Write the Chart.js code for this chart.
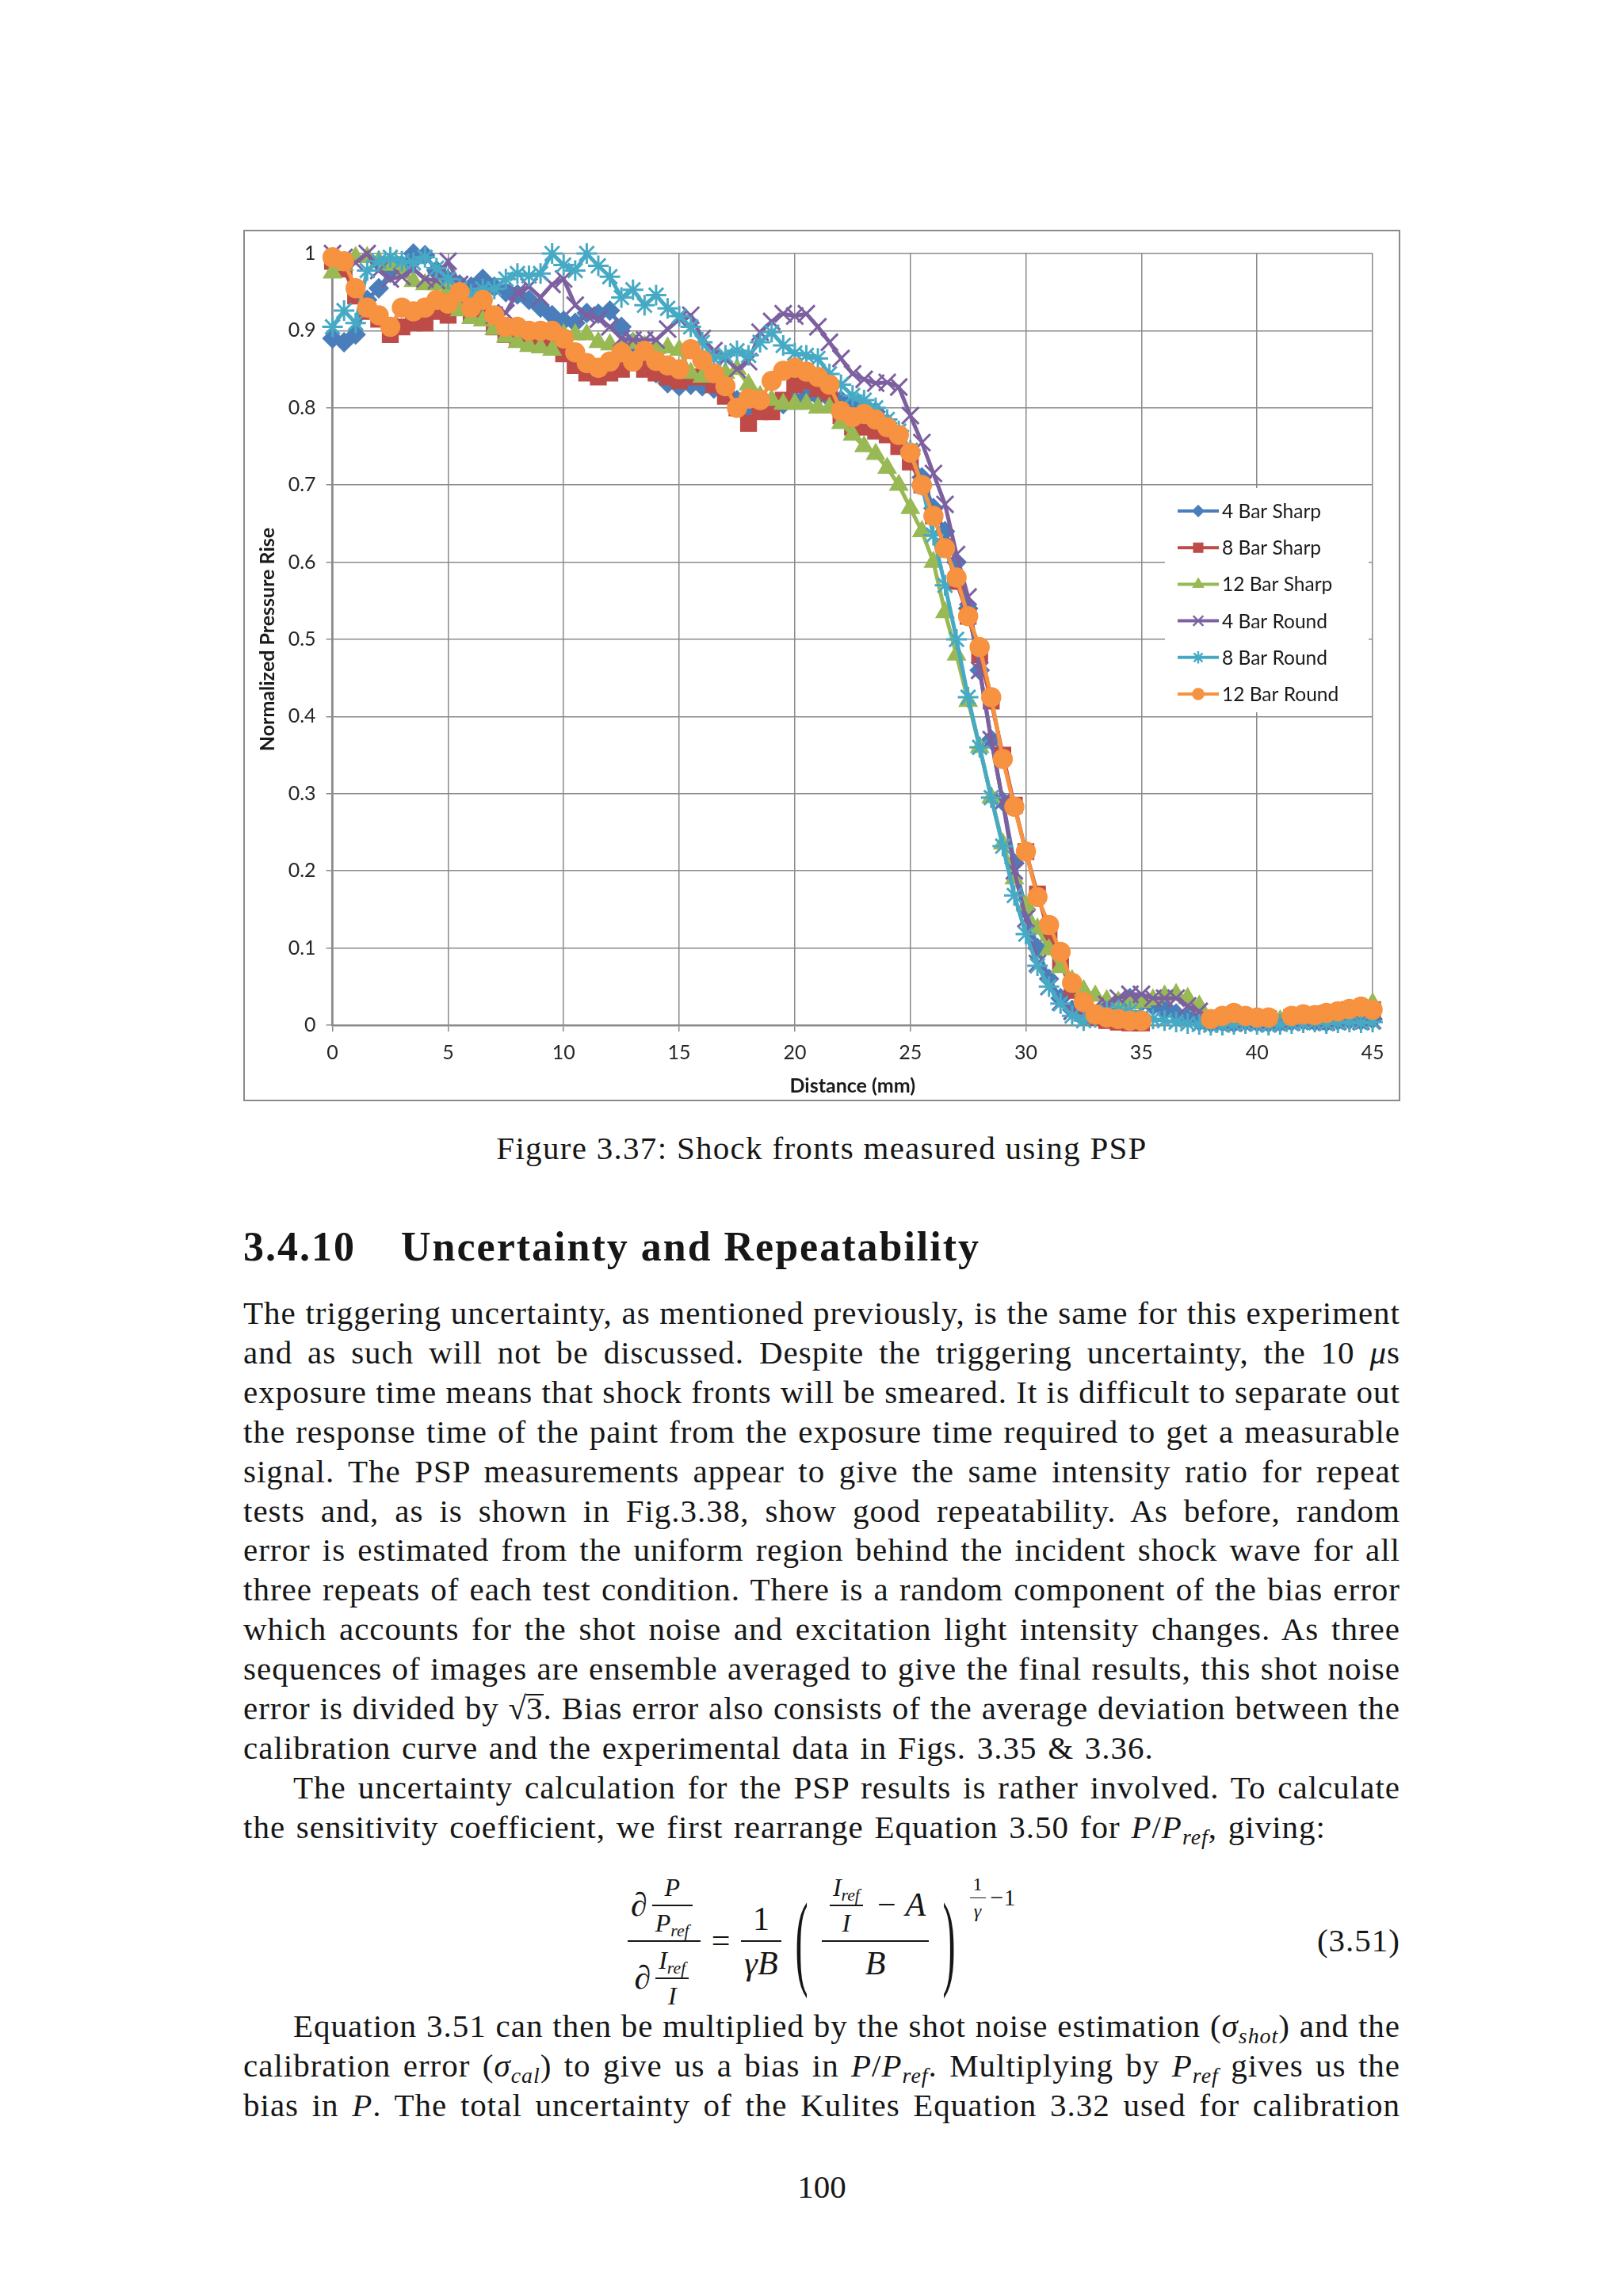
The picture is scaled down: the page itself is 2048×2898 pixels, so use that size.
<!DOCTYPE html>
<html>
<head>
<meta charset="utf-8">
<title>Shock fronts measured using PSP</title>
<script src="https://cdn.jsdelivr.net/npm/chart.js@4.4.1/dist/chart.umd.min.js"></script>
<style>
  html, body { margin: 0; padding: 0; background: #fff; }
  body { position: relative; width: 2048px; height: 2898px; overflow: hidden;
         font-family: "Liberation Serif", "DejaVu Serif", serif; color: #161616; }
  #chart-frame { position: absolute; left: 307px; top: 290px; width: 1460px; height: 1100px;
                 box-sizing: border-box; border: 2px solid #8a8a8a; pointer-events: none; }
  #wrap { position: absolute; left: 307px; top: 290px; width: 1460px; height: 1100px; }
  .caption { position: absolute; top: 1424px; left: 0; width: 2074px; text-align: center;
             font-size: 41px; line-height: 50px; letter-spacing: 1.3px; }
  .heading { position: absolute; top: 1544px; left: 307px; font-size: 52px; line-height: 60px; font-weight: bold;
             letter-spacing: 2px; }
  .heading .t { position: absolute; left: 199px; white-space: nowrap; }
  .para { position: absolute; left: 307px; width: 1460px; font-size: 41px; line-height: 49.9px;
          letter-spacing: 1px; word-spacing: -5px; }
  .para div { text-align: justify; text-align-last: justify; white-space: nowrap; }
  .para div.last { text-align-last: left; word-spacing: 2.5px; }
  .para div.ind { padding-left: 63px; }
  .para i { font-style: italic; }
  .para sub, .eq sub { font-size: 0.68em; vertical-align: -0.28em; line-height: 0; }
  .ov { display: inline-block; border-top: 2px solid #161616; line-height: 30px; padding-top: 1px; margin-left: -1px; }
  .eq { position: absolute; left: 786px; top: 2374px; height: 150px; display: flex; align-items: center;
        font-size: 42px; }
  .fr { display: inline-grid; grid-template-rows: 1fr 1fr; margin: 0 6px; }
  .fr > .n { align-self: end; justify-self: center; padding: 0 4px 3px; display: flex; align-items: center; }
  .fr > .d { align-self: start; justify-self: stretch; border-top: 2px solid #161616; padding: 3px 4px 0;
             display: flex; align-items: center; justify-content: center; }
  .sm { font-size: 32px; }
  .xs { font-size: 24px; }
  .xs > .d { border-top-width: 1.5px; }
  .op { margin: 0 12px; }
  .eq > .op { margin: 0 8px; }
  .paren { display: inline-block; font-size: 46px; transform: scale(1.05, 2.9); margin: 0 12px; }
  .sup { align-self: flex-start; font-size: 30px; display: flex; align-items: center; margin-top: -10px; }
  .eqno { position: absolute; top: 2424px; right: 281px; font-size: 41px; line-height: 50px; letter-spacing: 1px; }
  .pageno { position: absolute; top: 2735px; left: 0; width: 2074px; text-align: center; font-size: 41px; line-height: 50px; }
</style>
</head>
<body>
<div id="wrap"><canvas id="shock-chart" width="1460" height="1100"></canvas></div>
<div id="chart-frame"></div>

<div class="caption">Figure 3.37: Shock fronts measured using PSP</div>

<div class="heading"><span>3.4.10</span><span class="t">Uncertainty and Repeatability</span></div>

<div class="para" style="top:1633px">
  <div>The triggering uncertainty, as mentioned previously, is the same for this experiment</div>
  <div>and as such will not be discussed. Despite the triggering uncertainty, the 10 <i>μ</i>s</div>
  <div>exposure time means that shock fronts will be smeared. It is difficult to separate out</div>
  <div>the response time of the paint from the exposure time required to get a measurable</div>
  <div>signal. The PSP measurements appear to give the same intensity ratio for repeat</div>
  <div>tests and, as is shown in Fig.3.38, show good repeatability. As before, random</div>
  <div>error is estimated from the uniform region behind the incident shock wave for all</div>
  <div>three repeats of each test condition. There is a random component of the bias error</div>
  <div>which accounts for the shot noise and excitation light intensity changes. As three</div>
  <div>sequences of images are ensemble averaged to give the final results, this shot noise</div>
  <div>error is divided by √<span class="ov">3</span>. Bias error also consists of the average deviation between the</div>
  <div class="last">calibration curve and the experimental data in Figs. 3.35 &amp; 3.36.</div>
  <div class="ind">The uncertainty calculation for the PSP results is rather involved. To calculate</div>
  <div class="last">the sensitivity coefficient, we first rearrange Equation 3.50 for <i>P</i>/<i>P<sub>ref</sub></i>, giving:</div>
</div>

<div class="eq">
  <span class="fr">
    <span class="n">∂<span class="fr sm"><span class="n"><i>P</i></span><span class="d"><i>P<sub>ref</sub></i></span></span></span>
    <span class="d">∂<span class="fr sm"><span class="n"><i>I<sub>ref</sub></i></span><span class="d"><i>I</i></span></span></span>
  </span>
  <span class="op">=</span>
  <span class="fr"><span class="n">1</span><span class="d"><i>γB</i></span></span>
  <span class="paren">(</span>
  <span class="fr"><span class="n"><span class="fr sm"><span class="n"><i>I<sub>ref</sub></i></span><span class="d"><i>I</i></span></span><span class="op">−</span><i>A</i></span><span class="d"><i>B</i></span></span>
  <span class="paren">)</span>
  <span class="sup"><span class="fr xs"><span class="n">1</span><span class="d"><i>γ</i></span></span>−1</span>
</div>
<div class="eqno">(3.51)</div>

<div class="para" style="top:2533px">
  <div class="ind">Equation 3.51 can then be multiplied by the shot noise estimation (<i>σ<sub>shot</sub></i>) and the</div>
  <div>calibration error (<i>σ<sub>cal</sub></i>) to give us a bias in <i>P</i>/<i>P<sub>ref</sub></i>. Multiplying by <i>P<sub>ref</sub></i> gives us the</div>
  <div>bias in <i>P</i>. The total uncertainty of the Kulites Equation 3.32 used for calibration</div>
</div>

<div class="pageno">100</div>

<script>
// distance along the plate (mm), one reading every 0.5 mm
const distance = [
  0, 0.5, 1, 1.5, 2, 2.5, 3, 3.5, 4, 4.5,
  5, 5.5, 6, 6.5, 7, 7.5, 8, 8.5, 9, 9.5,
  10, 10.5, 11, 11.5, 12, 12.5, 13, 13.5, 14, 14.5,
  15, 15.5, 16, 16.5, 17, 17.5, 18, 18.5, 19, 19.5,
  20, 20.5, 21, 21.5, 22, 22.5, 23, 23.5, 24, 24.5,
  25, 25.5, 26, 26.5, 27, 27.5, 28, 28.5, 29, 29.5,
  30, 30.5, 31, 31.5, 32, 32.5, 33, 33.5, 34, 34.5,
  35, 35.5, 36, 36.5, 37, 37.5, 38, 38.5, 39, 39.5,
  40, 40.5, 41, 41.5, 42, 42.5, 43, 43.5, 44, 44.5,
  45
];

const bar4Sharp = [
  0.89, 0.885, 0.895, 0.94, 0.955, 0.975, 0.985, 1.0, 0.998, 0.978,
  0.966, 0.96, 0.957, 0.967, 0.957, 0.95, 0.947, 0.94, 0.93, 0.92,
  0.913, 0.91, 0.923, 0.922, 0.926, 0.905, 0.885, 0.87, 0.845, 0.832,
  0.828, 0.83, 0.828, 0.825, 0.82, 0.81, 0.8, 0.8, 0.8, 0.805,
  0.81, 0.815, 0.815, 0.812, 0.81, 0.805, 0.8, 0.795, 0.78, 0.765,
  0.74, 0.71, 0.67, 0.64, 0.6, 0.54, 0.46, 0.37, 0.29, 0.21,
  0.15, 0.1, 0.06, 0.035, 0.02, 0.012, 0.012, 0.02, 0.03, 0.035,
  0.03, 0.025, 0.02, 0.015, 0.01, 0.005, 0.003, 0.004, 0.003, 0.005,
  0.004, 0.003, 0.004, 0.005, 0.006, 0.005, 0.004, 0.006, 0.007, 0.006,
  0.008
];

const bar8Sharp = [
  0.99, 0.98, 0.945, 0.925, 0.915, 0.895, 0.905, 0.91, 0.91, 0.925,
  0.92, 0.93, 0.92, 0.925, 0.905, 0.895, 0.89, 0.885, 0.89, 0.885,
  0.87, 0.855, 0.845, 0.84, 0.845, 0.85, 0.86, 0.85, 0.845, 0.84,
  0.835, 0.84, 0.84, 0.83, 0.815, 0.8, 0.78, 0.795, 0.795, 0.81,
  0.83, 0.835, 0.825, 0.82, 0.79, 0.775, 0.775, 0.77, 0.765, 0.75,
  0.73, 0.7, 0.66, 0.62, 0.575, 0.53, 0.48, 0.42, 0.35, 0.285,
  0.225, 0.17, 0.12, 0.08, 0.045, 0.022, 0.01, 0.006, 0.004, 0.003,
  0.003, null, null, null, null, null, 0.006, 0.008, 0.012, 0.01,
  0.009, 0.008, null, 0.01, 0.012, 0.012, 0.015, 0.016, 0.02, 0.022,
  0.02
];

const bar12Sharp = [
  0.975, 0.985, 0.995, 0.995, 0.99, 0.985, 0.975, 0.964, 0.96, 0.96,
  0.954, 0.926, 0.916, 0.913, 0.902, 0.892, 0.885, 0.88, 0.878, 0.875,
  0.895, 0.895, 0.895, 0.885, 0.882, 0.88, 0.884, 0.88, 0.877, 0.878,
  0.875, 0.845, 0.84, 0.84, 0.845, 0.85, 0.83, 0.815, 0.81, 0.805,
  0.805, 0.805, 0.8, 0.8, 0.78, 0.765, 0.75, 0.74, 0.722, 0.7,
  0.67, 0.64, 0.6, 0.535, 0.48, 0.42, 0.36, 0.295, 0.235, 0.19,
  0.155, 0.125, 0.098, 0.075, 0.058, 0.045, 0.038, 0.032, 0.03, 0.028,
  0.03, 0.033, 0.038, 0.04, 0.035, 0.025, 0.006, 0.004, 0.005, 0.006,
  0.005, 0.004, 0.006, 0.007, 0.006, 0.008, 0.01, 0.011, 0.012, 0.015,
  0.028
];

const bar4Round = [
  1.0, 0.995, 0.988, 1.0, 0.978, 0.967, 0.97, 0.98, 0.967, 0.965,
  0.99, 0.96, 0.95, 0.943, 0.92, 0.923, 0.95, 0.957, 0.943, 0.96,
  0.967, 0.933, 0.92, 0.915, 0.905, 0.89, 0.888, 0.888, 0.888, 0.902,
  0.915, 0.92, 0.89, 0.874, 0.864, 0.85, 0.86, 0.898, 0.912, 0.922,
  0.919, 0.922, 0.905, 0.885, 0.864, 0.844, 0.837, 0.832, 0.833, 0.827,
  0.79, 0.755, 0.715, 0.675, 0.61, 0.555, 0.46, 0.37, 0.29, 0.2,
  0.138, 0.08, 0.05, 0.03, 0.018, 0.02, 0.024, 0.027, 0.035, 0.04,
  0.04, 0.035, 0.035, 0.035, 0.025, 0.018, 0.006, 0.004, 0.003, 0.005,
  0.004, 0.003, 0.005, 0.004, 0.006, 0.005, 0.004, 0.005, 0.006, 0.005,
  0.006
];

const bar8Round = [
  0.905, 0.926, 0.91, 0.978, 0.99, 0.995, 0.99, 0.988, 0.995, 0.981,
  0.967, 0.954, 0.947, 0.954, 0.954, 0.967, 0.974, 0.971, 0.974, 1.0,
  0.985, 0.978, 1.0, 0.984, 0.97, 0.943, 0.953, 0.933, 0.946, 0.929,
  0.919, 0.905, 0.885, 0.864, 0.868, 0.874, 0.868, 0.885, 0.898, 0.881,
  0.871, 0.868, 0.864, 0.844, 0.83, 0.816, 0.81, 0.8, 0.785, 0.77,
  0.745, 0.7, 0.635, 0.57, 0.5, 0.425, 0.36, 0.295, 0.232, 0.168,
  0.118, 0.077, 0.05, 0.028, 0.012, 0.006, 0.01, 0.018, 0.02, 0.018,
  0.01, 0.008, 0.006, 0.004, 0.002, 0.001, 0, 0, 0.001, 0.002,
  0.001, 0, 0.001, 0.002, 0.003, 0.004, 0.002, 0.003, 0.004, 0.003,
  0.004
];

const bar12Round = [
  0.995, 0.99, 0.955, 0.93, 0.92, 0.905, 0.93, 0.925, 0.93, 0.94,
  0.935, 0.95, 0.93, 0.94, 0.92, 0.905, 0.905, 0.9, 0.9, 0.9,
  0.89, 0.872, 0.858, 0.852, 0.86, 0.872, 0.86, 0.874, 0.861, 0.855,
  0.85, 0.876, 0.862, 0.845, 0.828, 0.8, 0.812, 0.81, 0.835, 0.848,
  0.852, 0.847, 0.84, 0.83, 0.796, 0.788, 0.792, 0.785, 0.775, 0.765,
  0.742, 0.7, 0.66, 0.618, 0.58, 0.53, 0.49, 0.425, 0.345, 0.283,
  0.225, 0.166, 0.13, 0.095, 0.055, 0.03, 0.014, 0.01, 0.008, 0.006,
  0.006, null, null, null, null, null, 0.008, 0.012, 0.016, 0.012,
  0.01, 0.01, null, 0.012, 0.014, 0.013, 0.016, 0.018, 0.021, 0.024,
  0.02
];

const xTicks = { min: 0, max: 45, step: 5 };
const yTicks = { min: 0, max: 1, step: 0.1 };

function toPoints(values) {
  return distance.map((d, i) => ({ x: d, y: values[i] }));
}

function series(label, values, color, style, radius, order) {
  return {
    label,
    data: toPoints(values),
    borderColor: color,
    backgroundColor: color,
    pointBackgroundColor: color,
    pointBorderColor: color,
    pointStyle: style,
    pointRadius: radius,
    pointBorderWidth: style === 'crossRot' || style === 'star' ? 3 : 1.5,
    borderWidth: 5,
    tension: 0,
    spanGaps: false,
    clip: false,
    order,
  };
}

const datasets = [
  series('4 Bar Sharp', bar4Sharp, '#4a7ebb', 'rectRot', 12, 6),
  series('8 Bar Sharp', bar8Sharp, '#be4b48', 'rect', 14, 5),
  series('12 Bar Sharp', bar12Sharp, '#98b954', 'triangle', 13, 4),
  series('4 Bar Round', bar4Round, '#7d60a0', 'crossRot', 15, 3),
  series('8 Bar Round', bar8Round, '#46aac5', 'star', 13, 2),
  series('12 Bar Round', bar12Round, '#f69240', 'circle', 12, 1),
];

// legend drawn inside the plot, on a white panel like the Excel original
const insideLegend = {
  id: 'insideLegend',
  afterDraw(chart, args, opts) {
    const ctx = chart.ctx;
    ctx.save();
    ctx.fillStyle = '#ffffff';
    ctx.fillRect(opts.left, opts.top, opts.width, opts.height);
    chart.data.datasets.forEach((ds, i) => {
      const y = opts.firstRow + i * opts.rowGap;
      ctx.strokeStyle = ds.borderColor;
      ctx.lineWidth = 4;
      ctx.beginPath();
      ctx.moveTo(opts.lineStart, y);
      ctx.lineTo(opts.lineEnd, y);
      ctx.stroke();
      ctx.fillStyle = ds.pointBackgroundColor;
      ctx.strokeStyle = ds.pointBorderColor;
      ctx.lineWidth = ds.pointBorderWidth * 0.8;
      if (Chart.helpers && Chart.helpers.drawPoint) {
        Chart.helpers.drawPoint(ctx, {
          pointStyle: ds.pointStyle,
          radius: ds.pointRadius * 0.6,
          borderWidth: ds.pointBorderWidth * 0.8,
          rotation: 0,
        }, (opts.lineStart + opts.lineEnd) / 2, y);
      }
      ctx.fillStyle = '#1a1a1a';
      ctx.font = '24.5px Lato';
      ctx.textAlign = 'left';
      ctx.textBaseline = 'middle';
      ctx.fillText(ds.label, opts.textX, y + 1);
    });
    ctx.restore();
  },
};

Chart.defaults.font.family = 'Lato';
Chart.defaults.color = '#262626';

new Chart(document.getElementById('shock-chart'), {
  type: 'line',
  data: { datasets },
  plugins: [insideLegend],
  options: {
    responsive: false,
    animation: false,
    events: [],
    layout: { padding: { top: 30, right: 35, bottom: 0, left: 0 } },
    scales: {
      x: {
        type: 'linear',
        min: xTicks.min,
        max: xTicks.max,
        afterFit: (scale) => { scale.height = 96; },
        ticks: { stepSize: xTicks.step, padding: 12, font: { size: 25 } },
        grid: { color: '#8a8a8a', lineWidth: 1.5, tickLength: 8 },
        border: { color: '#8a8a8a', width: 2.5 },
        title: {
          display: true,
          text: 'Distance (mm)',
          font: { size: 25, weight: 'bold' },
          color: '#1a1a1a',
          padding: { top: 0, bottom: 4 },
        },
      },
      y: {
        type: 'linear',
        min: yTicks.min,
        max: yTicks.max,
        afterFit: (scale) => { scale.width = 112.6; },
        ticks: {
          stepSize: yTicks.step,
          padding: 13,
          font: { size: 25 },
          callback: (value) => String(Math.round(value * 10) / 10),
        },
        grid: { color: '#8a8a8a', lineWidth: 1.5, tickLength: 8 },
        border: { color: '#8a8a8a', width: 2.5 },
        title: {
          display: true,
          text: 'Normalized Pressure Rise',
          font: { size: 25, weight: 'bold' },
          color: '#1a1a1a',
          padding: { top: 16, bottom: 0 },
        },
      },
    },
    plugins: {
      legend: { display: false },
      tooltip: { enabled: false },
      insideLegend: {
        left: 1163, top: 326, width: 257, height: 283,
        firstRow: 355, rowGap: 46.2,
        lineStart: 1179, lineEnd: 1231, textX: 1235,
      },
    },
  },
});
</script>
</body>
</html>
